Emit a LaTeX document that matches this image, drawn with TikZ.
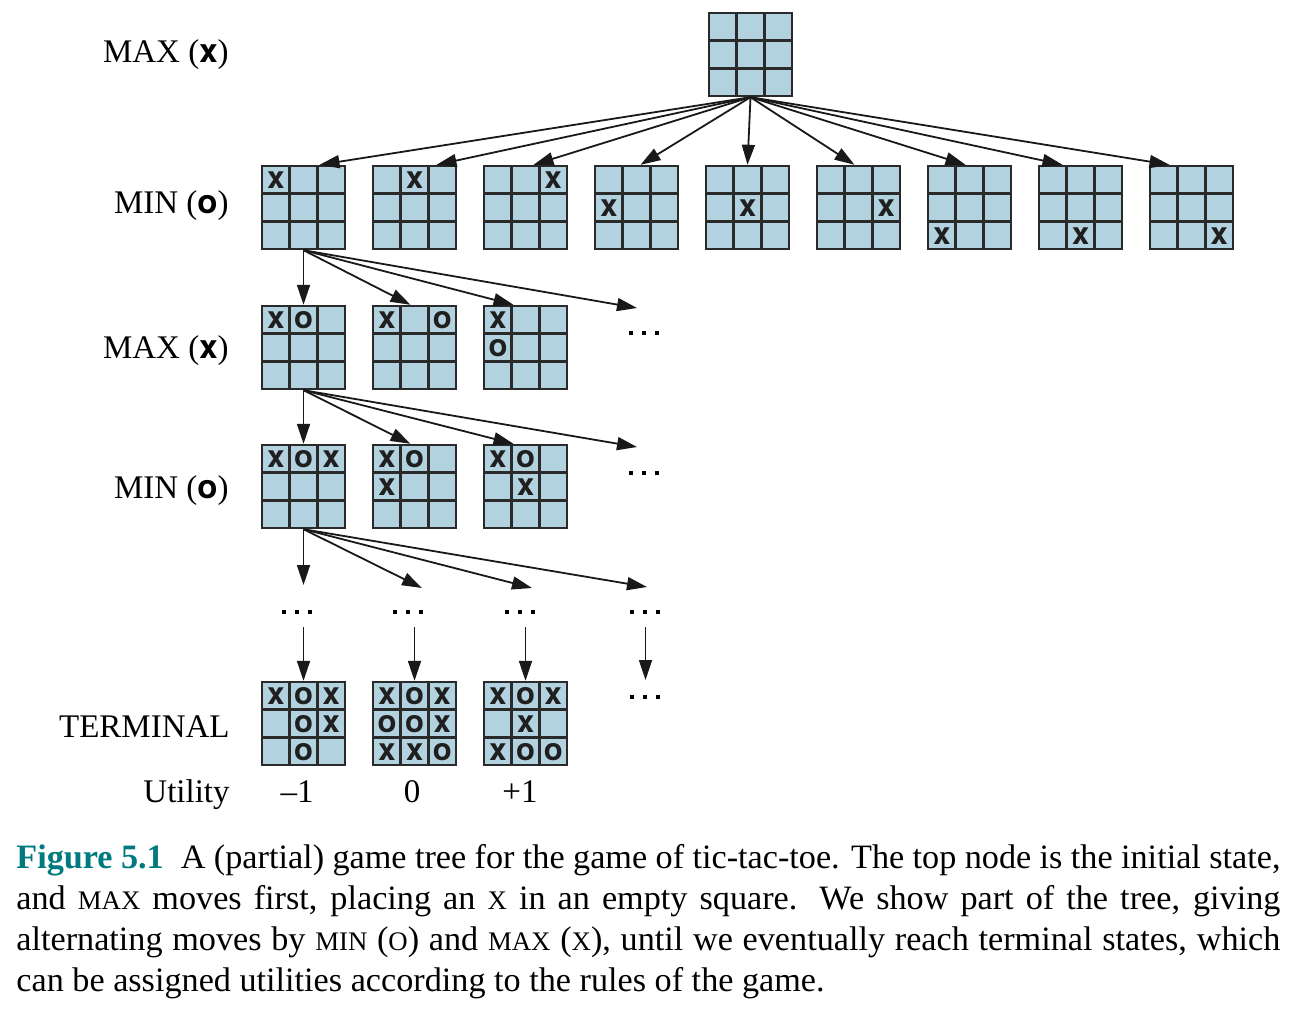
\documentclass[tikz,border=0pt]{standalone}
\usepackage{fontspec}
\setmainfont{Liberation Serif}
\newfontfamily\markfont{TeX Gyre Heros}
\usetikzlibrary{positioning,calc,arrows.meta}

\definecolor{boardcol}{RGB}{178,210,224}
\definecolor{gridcol}{RGB}{42,42,42}
\definecolor{figcol}{RGB}{0,122,128}

% marks on a board: cell/letter, cells 0..8 row by row
\newcommand\putmarks[2]{%
  \foreach \k/\m in {#2}{%
    \pgfmathtruncatemacro\mrow{\k/3}%
    \pgfmathtruncatemacro\mcol{mod(\k,3)}%
    \node[xo] (#1-\k) at ($(#1.north west)+(\mcol*13.83pt+7.6pt,-\mrow*13.83pt-7.9pt)$) {\m};}}
\newcommand\more{\rule{2.1pt}{2.1pt}\kern4.4pt\rule{2.1pt}{2.1pt}\kern4.4pt\rule{2.1pt}{2.1pt}}
\newcommand\smc[1]{{\fontsize{13.4}{21}\selectfont #1}}

\begin{document}
\begin{tikzpicture}
[x=0.5pt, y=-0.5pt, node distance=55.5pt, font=\fontsize{16.5}{20.5}\selectfont]

\tikzstyle{board}=[draw=gridcol, fill=boardcol, line width=1.2pt, minimum size=41.5pt, inner sep=0pt,
  path picture={\draw[gridcol, line width=1.2pt, shift={(path picture bounding box.center)}]
    (-6.92pt,-21pt) -- (-6.92pt,21pt) (6.92pt,-21pt) -- (6.92pt,21pt)
    (-21pt,-6.92pt) -- (21pt,-6.92pt) (-21pt,6.92pt) -- (21pt,6.92pt);}]
\tikzstyle{xo}=[font=\markfont\bfseries\fontsize{15.5}{15.5}\selectfont, inner sep=0pt, text=black!88]
\tikzstyle{arr}=[-{Triangle[length=10pt,width=6.5pt]}, line width=0.9pt, color=black!90]
\tikzstyle{lbl}=[anchor=base east, inner sep=0pt]
\tikzstyle{more}=[inner sep=0pt]

\useasboundingbox (0,0) rectangle (1295,1012);

% level labels
\node[lbl] (l0) at (229,62.5)  {MAX ({\markfont\bfseries x})};
\node[lbl] (l1) at (229,213.5) {MIN ({\markfont\bfseries o})};
\node[lbl] (l2) at (229,358)   {MAX ({\markfont\bfseries x})};
\node[lbl] (l3) at (229,498.5) {MIN ({\markfont\bfseries o})};
\node[lbl] (l4) at (230,737)   {TERMINAL};
\node[lbl] (l5) at (230,802)   {Utility};

% root
\node[board] (root) at (750.5,54.5) {};

% first move
\node[board] (c1) at (303.5,207.5) {};
\node[board] (c2) [right of=c1] {};
\node[board] (c3) [right of=c2] {};
\node[board] (c4) [right of=c3] {};
\node[board] (c5) [right of=c4] {};
\node[board] (c6) [right of=c5] {};
\node[board] (c7) [right of=c6] {};
\node[board] (c8) [right of=c7] {};
\node[board] (c9) [right of=c8] {};
\putmarks{c1}{0/x} \putmarks{c2}{1/x} \putmarks{c3}{2/x}
\putmarks{c4}{3/x} \putmarks{c5}{4/x} \putmarks{c6}{5/x}
\putmarks{c7}{6/x} \putmarks{c8}{7/x} \putmarks{c9}{8/x}

% second move
\node[board] (m1) at (303.5,347.5) {};
\node[board] (m2) [right of=m1] {};
\node[board] (m3) [right of=m2] {};
\node[more]  (d2) at (644,333) {\more};
\putmarks{m1}{0/x,1/o} \putmarks{m2}{0/x,2/o} \putmarks{m3}{0/x,3/o}

% third move
\node[board] (n1) at (303.5,486.5) {};
\node[board] (n2) [right of=n1] {};
\node[board] (n3) [right of=n2] {};
\node[more]  (d3) at (644,473) {\more};
\putmarks{n1}{0/x,1/o,2/x} \putmarks{n2}{0/x,1/o,3/x} \putmarks{n3}{0/x,1/o,4/x}

% further moves
\node[more] (p1) at (297,612) {\more};
\node[more] (p2) at (408,612) {\more};
\node[more] (p3) at (520,612) {\more};
\node[more] (p4) at (645,612) {\more};

% terminal states
\node[board] (t1) at (303.5,723.5) {};
\node[board] (t2) [right of=t1] {};
\node[board] (t3) [right of=t2] {};
\node[more]  (q4) at (645,697) {\more};
\putmarks{t1}{0/x,1/o,2/x,4/o,5/x,7/o}
\putmarks{t2}{0/x,1/o,2/x,3/o,4/o,5/x,6/x,7/x,8/o}
\putmarks{t3}{0/x,1/o,2/x,4/x,6/x,7/o,8/o}

\node[anchor=base, inner sep=0pt] (u1) at (297,802) {--1};
\node[anchor=base, inner sep=0pt] (u2) at (412,802) {0};
\node[anchor=base, inner sep=0pt] (u3) at (520,802) {+1};

% free ends
\coordinate (e2) at (637,308);
\coordinate (e3) at (637,447);
\coordinate (f1) at (303.5,585);
\coordinate (f2) at (422,588);
\coordinate (f3) at (532,588);
\coordinate (f4) at (647,587);
\coordinate (s1) at (303.5,627);
\coordinate (s2) at (414.5,627);
\coordinate (s3) at (525.5,627);
\coordinate (s4) at (645.5,627);
\coordinate (g4) at (645.5,680);

\draw[arr] (root.south) -- ([xshift=8pt]c1.north);
\draw[arr] (root.south) -- ([xshift=11pt]c2.north);
\draw[arr] (root.south) -- ([xshift=4pt]c3.north);
\draw[arr] (root.south) -- ([xshift=2pt]c4.north);
\draw[arr] (root.south) -- (c5.north);
\draw[arr] (root.south) -- ([xshift=-2pt]c6.north);
\draw[arr] (root.south) -- ([xshift=-2pt]c7.north);
\draw[arr] (root.south) -- ([xshift=-9pt]c8.north);
\draw[arr] (root.south) -- ([xshift=-11pt]c9.north);

\draw[arr] (c1.south) -- (m1.north);
\draw[arr] (c1.south) -- ([xshift=-2pt]m2.north);
\draw[arr] (c1.south) -- ([xshift=-6pt]m3.north);
\draw[arr] (c1.south) -- (e2);

\draw[arr] (m1.south) -- (n1.north);
\draw[arr] (m1.south) -- ([xshift=-2pt]n2.north);
\draw[arr] (m1.south) -- ([xshift=-6pt]n3.north);
\draw[arr] (m1.south) -- (e3);

\draw[arr] (n1.south) -- (f1);
\draw[arr] (n1.south) -- (f2);
\draw[arr] (n1.south) -- (f3);
\draw[arr] (n1.south) -- (f4);

\draw[arr] (s1) -- (t1.north);
\draw[arr] (s2) -- (t2.north);
\draw[arr] (s3) -- (t3.north);
\draw[arr] (s4) -- (g4);

% caption
\node[anchor=base west, inner sep=0pt, text width=632pt, align=justify,
      font=\fontsize{17.1}{20.5}\selectfont] (cap) at (16,868)
  {{\color{figcol}\bfseries Figure 5.1}\hspace{0.5em}A (partial) game tree for the game of tic-tac-toe. The top node is the initial state,\linebreak
  and \smc{MAX} moves first, placing an \smc{X} in an empty square.  We show part of the tree, giving\linebreak
  alternating moves by \smc{MIN} (\smc{O}) and \smc{MAX} (\smc{X}), until we eventually reach terminal states, which\linebreak
  can be assigned utilities according to the rules of the game.};
\end{tikzpicture}
\end{document}
